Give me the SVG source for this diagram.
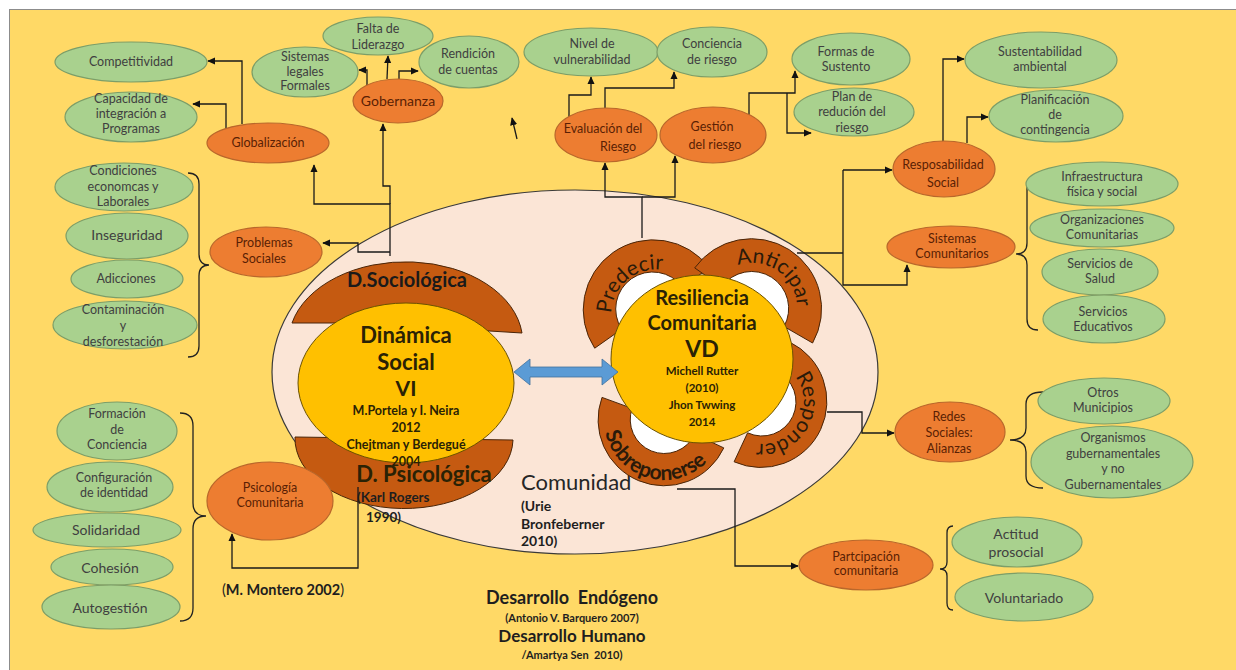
<svg xmlns="http://www.w3.org/2000/svg" width="1236" height="670" viewBox="0 0 1236 670">
<defs>
<style>
.gn ellipse{fill:#A9D18E;stroke:#7C9E68;stroke-width:1.2}
.on ellipse{fill:#ED7D31;stroke:#B9672B;stroke-width:1.2}
text{font-family:Lato,"Liberation Sans",sans-serif}
.gt{font-size:12.5px;fill:#404040;text-anchor:middle}
.ot{font-size:12.5px;fill:#5a1f04;text-anchor:middle}
.big{font-size:14px}
.ct{font-weight:bold;fill:#2a2205;text-anchor:middle}
.band{fill:#C55A11;stroke:#4a2508;stroke-width:1}
.pt{font-size:21px;fill:#2a1a0a}
.con path{fill:none;stroke:#1a1a1a;stroke-width:1.3}
.arr{marker-end:url(#ah)}
.br path{fill:none;stroke:#222;stroke-width:1.3}
.bt{font-weight:bold;fill:#1e1e1e}
</style>
<marker id="ah" viewBox="0 0 10 10" refX="9" refY="5" markerWidth="8" markerHeight="8" markerUnits="userSpaceOnUse" orient="auto">
<path d="M0,0.5 L10,5 L0,9.5 z" fill="#111"/>
</marker>
<path id="tpPre" d="M621.8,344 A45,45 0 1 1 690.9,285.5"/>
<path id="tpAnt" d="M711.2,289 A45,45 0 1 1 783.8,339.8"/>
<path id="tpRes" d="M776.4,362.5 A42,42 0 1 1 735,434.2"/>
<path id="tpSob" d="M610.1,393.7 A60,60 0 1 0 723.7,426.3"/>
</defs>
<rect x="0" y="0" width="1236" height="670" fill="#FFFFFF"/>
<rect x="9.5" y="9.5" width="1240" height="670" fill="#FFD966" stroke="#8c8c8c" stroke-width="1"/>

<g id="comunidad">
<ellipse cx="575" cy="372" rx="303" ry="182" fill="#FBE5D6" stroke="#3a3a3a" stroke-width="1.2"/>
<text x="521" y="490" font-size="22" fill="#262626">Comunidad</text>
<text x="521" y="511" font-size="14" class="bt">(Urie</text>
<text x="521" y="529" font-size="14" class="bt">Bronfeberner</text>
<text x="521" y="546" font-size="14" class="bt">2010)</text>
</g>

<g id="dinamica-social">
<path class="band" d="M292,323 A117,80 0 0 1 522,333 L473,330 L473,350 L340,350 L340,323 Z"/>
<path class="band" d="M295,437 L513,440 A109,70 0 0 1 295,437 Z"/>
<ellipse cx="406" cy="383" rx="108" ry="80" fill="#FFC000" stroke="#6b5200" stroke-width="1"/>
<text x="407" y="287" font-family="Liberation Sans, Arial, sans-serif" font-size="20" font-weight="bold" fill="#1a1a1a" text-anchor="middle">D.Sociológica</text>
<text x="406" y="343" font-size="22" class="ct">Dinámica</text>
<text x="406" y="370" font-size="22" class="ct">Social</text>
<text x="406" y="396" font-size="21" class="ct">VI</text>
<text x="406" y="415" font-size="12.5" class="ct">M.Portela y I. Neira</text>
<text x="406" y="432" font-size="12.5" class="ct">2012</text>
<text x="406" y="449" font-size="12.5" class="ct">Chejtman y Berdegué</text>
<text x="406" y="466" font-size="12.5" class="ct">2004</text>
<text x="424" y="482" font-size="22" class="ct" fill="#1e1e1e">D. Psicológica</text>
<text x="357" y="502" font-size="13.5" class="bt">(Karl Rogers</text>
<text x="366" y="522" font-size="13.5" class="bt">1990)</text>
</g>

<g id="resiliencia">
<circle cx="652" cy="308" r="37" fill="#FFFFFF"/>
<circle cx="752" cy="308" r="37" fill="#FFFFFF"/>
<circle cx="762" cy="402" r="34" fill="#FFFFFF"/>
<circle cx="664" cy="420" r="34" fill="#FFFFFF"/>
<path class="band" d="M594.7,348.2 A70,70 0 0 1 709.3,267.9 L682.3,286.8 A37,37 0 0 0 621.7,329.2 Z"/>
<path class="band" d="M694.7,267.9 A70,70 0 0 1 812.6,343 L784,326.5 A37,37 0 0 0 721.7,286.8 Z"/>
<path class="band" d="M789.9,342.2 A66,66 0 0 1 734.1,461.8 L747.6,432.8 A34,34 0 0 0 776.4,371.2 Z"/>
<path class="band" d="M723.8,447.9 A66,66 0 0 1 602,397.4 L632.1,408.4 A34,34 0 0 0 694.8,434.4 Z"/>
<ellipse cx="702" cy="359" rx="91" ry="84" fill="#FFC000" stroke="#6b5200" stroke-width="1"/>
<text class="pt"><textPath href="#tpPre" startOffset="50%" text-anchor="middle">Predecir</textPath></text>
<text class="pt"><textPath href="#tpAnt" startOffset="50%" text-anchor="middle">Anticipar</textPath></text>
<text class="pt"><textPath href="#tpRes" startOffset="50%" text-anchor="middle">Responder</textPath></text>
<text class="pt" font-size="19" font-weight="bold" fill="#1a1a1a"><textPath href="#tpSob" startOffset="50%" text-anchor="middle">Sobreponerse</textPath></text>
<text x="702" y="305" font-size="20" class="ct">Resiliencia</text>
<text x="702" y="330" font-size="20" class="ct">Comunitaria</text>
<text x="702" y="357" font-size="23" class="ct">VD</text>
<text x="702" y="375" font-size="11.5" class="ct">Michell Rutter</text>
<text x="702" y="392" font-size="11.5" class="ct">(2010)</text>
<text x="702" y="409" font-size="11.5" class="ct">Jhon Twwing</text>
<text x="702" y="426" font-size="11.5" class="ct">2014</text>
</g>

<g id="double-arrow">
<polygon points="514,372 530,359 530,367 602,367 602,359 618,372 602,385 602,377 530,377 530,385" fill="#5B9BD5" stroke="#41719C" stroke-width="0.8"/>
</g>

<g id="connectors" class="con">
<path class="arr" d="M242,124 V61 H208"/>
<path class="arr" d="M226,129 V104 H193"/>
<path class="arr" d="M390,256 V204 H314 V165"/>
<path class="arr" d="M390,204 V186 H383 V124"/>
<path class="arr" d="M390,252 H358 V243 H323"/>
<path class="arr" d="M367,86 V70 H359"/>
<path class="arr" d="M387,79 L388,56"/>
<path class="arr" d="M399,79 V71 H418"/>
<path class="arr" d="M517,139 L512,118"/>
<path class="arr" d="M569,117 V95 H591 V77"/>
<path class="arr" d="M605,108 V88 H674 V72"/>
<path class="arr" d="M642,238 V197 H605 V163"/>
<path class="arr" d="M642,197 H675 V156"/>
<path class="arr" d="M749,115 V93 H795 V71"/>
<path class="arr" d="M787,93 V133 H811"/>
<path d="M797,253 H843"/>
<path class="arr" d="M843,170 V285 H907 V265"/>
<path class="arr" d="M843,170 H892"/>
<path class="arr" d="M943,142 V59 H964"/>
<path class="arr" d="M967,143 V117 H988"/>
<path class="arr" d="M827,412 H862 V433 H894"/>
<path class="arr" d="M677,489 H735 V566 H798"/>
<path class="arr" d="M358,487 V568 H232 V534"/>
</g>

<g id="brackets" class="br">
<path d="M188,173 Q199,173 199,184 L199,254 Q199,265 209,265 Q199,265 199,276 L199,346 Q199,357 188,357"/>
<path d="M180,413 Q193,413 193,426 L193,503 Q193,516 206,516 Q193,516 193,529 L193,608 Q193,621 180,621"/>
<path d="M1038,178 Q1027,178 1027,189 L1027,243 Q1027,254 1016,254 Q1027,254 1027,265 L1027,319 Q1027,330 1038,330"/>
<path d="M1043,392 Q1026,392 1026,404 L1026,428 Q1026,440 1010,440 Q1026,440 1026,452 L1026,476 Q1026,488 1043,488"/>
<path d="M953,526 Q947,526 947,533 L947,562 Q947,569 940,569 Q947,569 947,576 L947,603 Q947,610 953,610"/>
</g>

<g id="competitividad" class="gn"><ellipse cx="131" cy="62" rx="76" ry="20"/><text class="gt" x="131" y="66">Competitividad</text></g>
<g id="capacidad" class="gn"><ellipse cx="131" cy="117" rx="66" ry="25"/><text class="gt" x="131" y="103">Capacidad de</text><text class="gt" x="131" y="118">integración a</text><text class="gt" x="131" y="133">Programas</text></g>
<g id="globalizacion" class="on"><ellipse cx="268" cy="143" rx="61" ry="20"/><text class="ot" x="268" y="147">Globalización</text></g>
<g id="sistemas-legales" class="gn"><ellipse cx="305" cy="72" rx="53" ry="25"/><text class="gt" x="305" y="61">Sistemas</text><text class="gt" x="305" y="76">legales</text><text class="gt" x="305" y="90">Formales</text></g>
<g id="falta-liderazgo" class="gn"><ellipse cx="378" cy="36" rx="55" ry="19"/><text class="gt" x="378" y="33">Falta de</text><text class="gt" x="378" y="49">Liderazgo</text></g>
<g id="rendicion" class="gn"><ellipse cx="469" cy="62" rx="50" ry="26"/><text class="gt" x="468" y="58">Rendición</text><text class="gt" x="468" y="74">de cuentas</text></g>
<g id="gobernanza" class="on"><ellipse cx="398" cy="101" rx="45" ry="22"/><text class="ot big" x="398" y="106">Gobernanza</text></g>

<g id="nivel-vulnerabilidad" class="gn"><ellipse cx="591" cy="52" rx="67" ry="24"/><text class="gt" x="592" y="48">Nivel de</text><text class="gt" x="592" y="64">vulnerabilidad</text></g>
<g id="conciencia-riesgo" class="gn"><ellipse cx="712" cy="52" rx="55" ry="25"/><text class="gt" x="712" y="48">Conciencia</text><text class="gt" x="712" y="64">de riesgo</text></g>
<g id="formas-sustento" class="gn"><ellipse cx="851" cy="59" rx="59" ry="26"/><text class="gt" x="846" y="56">Formas de</text><text class="gt" x="846" y="71">Sustento</text></g>
<g id="plan-reducion" class="gn"><ellipse cx="854" cy="112" rx="60" ry="24"/><text class="gt" x="852" y="101">Plan de</text><text class="gt" x="852" y="116">redución del</text><text class="gt" x="852" y="132">riesgo</text></g>
<g id="evaluacion" class="on"><ellipse cx="606" cy="135" rx="51" ry="27"/><text class="ot" x="603" y="133">Evaluación del</text><text class="ot" x="618" y="151">Riesgo</text></g>
<g id="gestion" class="on"><ellipse cx="713" cy="135" rx="53" ry="28"/><text class="ot" font-size="14" x="712" y="131">Gestión</text><text class="ot" font-size="14" x="715" y="149">del riesgo</text></g>

<g id="sustentabilidad" class="gn"><ellipse cx="1041" cy="60" rx="76" ry="28"/><text class="gt" x="1040" y="56">Sustentabilidad</text><text class="gt" x="1040" y="71">ambiental</text></g>
<g id="planificacion" class="gn"><ellipse cx="1056" cy="116" rx="67" ry="26"/><text class="gt" x="1055" y="104">Planificación</text><text class="gt" x="1055" y="119">de</text><text class="gt" x="1055" y="134">contingencia</text></g>
<g id="responsabilidad" class="on"><ellipse cx="944" cy="169" rx="51" ry="28"/><text class="ot" font-size="14" x="943" y="169">Resposabilidad</text><text class="ot" font-size="14" x="943" y="187">Social</text></g>

<g id="infraestructura" class="gn"><ellipse cx="1102" cy="184" rx="76" ry="22"/><text class="gt" x="1102" y="181">Infraestructura</text><text class="gt" x="1102" y="196">física y social</text></g>
<g id="organizaciones" class="gn"><ellipse cx="1102" cy="228" rx="72" ry="19"/><text class="gt" x="1102" y="224">Organizaciones</text><text class="gt" x="1102" y="239">Comunitarias</text></g>
<g id="salud" class="gn"><ellipse cx="1100" cy="272" rx="58" ry="23"/><text class="gt" x="1100" y="268">Servicios de</text><text class="gt" x="1100" y="283">Salud</text></g>
<g id="educativos" class="gn"><ellipse cx="1104" cy="319" rx="61" ry="24"/><text class="gt" x="1103" y="316">Servicios</text><text class="gt" x="1103" y="331">Educativos</text></g>
<g id="sistemas-comunitarios" class="on"><ellipse cx="951" cy="247" rx="64" ry="21"/><text class="ot" x="952" y="243">Sistemas</text><text class="ot" x="952" y="258">Comunitarios</text></g>

<g id="otros-municipios" class="gn"><ellipse cx="1104" cy="401" rx="66" ry="23"/><text class="gt" x="1103" y="397">Otros</text><text class="gt" x="1103" y="412">Municipios</text></g>
<g id="organismos" class="gn"><ellipse cx="1112" cy="462" rx="81" ry="36"/><text class="gt" x="1113" y="442">Organismos</text><text class="gt" x="1113" y="458">gubernamentales</text><text class="gt" x="1113" y="473">y no</text><text class="gt" x="1113" y="489">Gubernamentales</text></g>
<g id="redes-sociales" class="on"><ellipse cx="950" cy="432" rx="55" ry="30"/><text class="ot" x="949" y="421">Redes</text><text class="ot" x="949" y="437">Sociales:</text><text class="ot" x="949" y="453">Alianzas</text></g>

<g id="actitud" class="gn"><ellipse cx="1017" cy="542" rx="65" ry="25"/><text class="gt big" x="1016" y="539">Actitud</text><text class="gt big" x="1016" y="557">prosocial</text></g>
<g id="voluntariado" class="gn"><ellipse cx="1024" cy="597" rx="69" ry="24"/><text class="gt big" x="1024" y="603">Voluntariado</text></g>
<g id="participacion" class="on"><ellipse cx="866" cy="565" rx="67" ry="25"/><text class="ot" x="866" y="561">Partcipación</text><text class="ot" x="866" y="575">comunitaria</text></g>

<g id="condiciones" class="gn"><ellipse cx="124" cy="187" rx="69" ry="24"/><text class="gt" x="123" y="175">Condiciones</text><text class="gt" x="123" y="191">economcas y</text><text class="gt" x="123" y="206">Laborales</text></g>
<g id="inseguridad" class="gn"><ellipse cx="127" cy="236" rx="61" ry="23"/><text class="gt big" x="127" y="240">Inseguridad</text></g>
<g id="adicciones" class="gn"><ellipse cx="127" cy="279" rx="56" ry="19"/><text class="gt" font-size="13.5" x="126" y="283">Adicciones</text></g>
<g id="contaminacion" class="gn"><ellipse cx="125" cy="325" rx="72" ry="24"/><text class="gt" x="123" y="314">Contaminación</text><text class="gt" x="123" y="330">y</text><text class="gt" x="123" y="346">desforestación</text></g>
<g id="problemas-sociales" class="on"><ellipse cx="266" cy="252" rx="56" ry="25"/><text class="ot" x="264" y="247">Problemas</text><text class="ot" x="264" y="263">Sociales</text></g>

<g id="formacion" class="gn"><ellipse cx="117" cy="431" rx="60" ry="29"/><text class="gt" x="117" y="418">Formación</text><text class="gt" x="117" y="434">de</text><text class="gt" x="117" y="449">Conciencia</text></g>
<g id="configuracion" class="gn"><ellipse cx="110" cy="487" rx="63" ry="25"/><text class="gt" x="114" y="482">Configuración</text><text class="gt" x="114" y="497">de identidad</text></g>
<g id="solidaridad" class="gn"><ellipse cx="107" cy="530" rx="74" ry="17"/><text class="gt big" x="106" y="535">Solidaridad</text></g>
<g id="cohesion" class="gn"><ellipse cx="112" cy="567" rx="61" ry="18"/><text class="gt big" x="110" y="573">Cohesión</text></g>
<g id="autogestion" class="gn"><ellipse cx="111" cy="607" rx="69" ry="22"/><text class="gt big" x="110" y="613">Autogestión</text></g>
<g id="psicologia-comunitaria" class="on"><ellipse cx="270" cy="501" rx="63" ry="39"/><text class="ot" x="270" y="492">Psicología</text><text class="ot" x="270" y="507">Comunitaria</text></g>

<g id="notas">
<text x="283" y="595" font-size="14.5" fill="#1e1e1e" text-anchor="middle">(<tspan font-weight="bold">M. Montero 2002</tspan>)</text>
<text x="572" y="604" font-size="18" class="bt" text-anchor="middle" xml:space="preserve">Desarrollo  Endógeno</text>
<text x="572" y="622" font-size="11" class="bt" text-anchor="middle">(Antonio V. Barquero 2007)</text>
<text x="572" y="642" font-size="17" class="bt" text-anchor="middle">Desarrollo Humano</text>
<text x="572" y="659" font-size="11" class="bt" text-anchor="middle" xml:space="preserve">/Amartya Sen  2010)</text>
</g>
</svg>
